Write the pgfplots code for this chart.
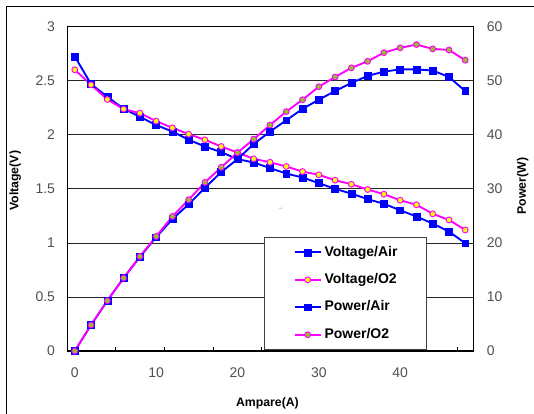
\documentclass[border=0pt]{standalone}
\usepackage{fontspec}
\setmainfont{Liberation Sans}
\usepackage{pgfplots}
\usepackage{pgfplotstable}
\pgfplotsset{compat=1.18}

\definecolor{olivegr}{RGB}{150,190,40}
\definecolor{tickgray}{RGB}{80,80,80}
\definecolor{mag}{RGB}{255,0,255}
\definecolor{blu}{RGB}{0,0,255}
\definecolor{yel}{RGB}{255,255,0}

% current (A), voltage air / O2 (V), power air / O2 (W)
\pgfplotstableread{
x   vair   vo2    pair   po2
0   2.725  2.602  0      0
2   2.469  2.463  4.81   4.80
4   2.352  2.327  9.32   9.30
6   2.241  2.238  13.5   13.5
8   2.167  2.201  17.4   17.5
10  2.090  2.127  21.05  21.2
12  2.031  2.065  24.4   24.9
14  1.954  2.006  27.15  28.0
16  1.892  1.954  30.2   31.2
18  1.840  1.892  33.1   34.0
20  1.775  1.836  35.5   36.7
22  1.744  1.778  38.3   39.2
24  1.692  1.746  40.6   41.8
26  1.642  1.707  42.7   44.3
28  1.605  1.660  44.8   46.5
30  1.553  1.630  46.5   48.9
32  1.500  1.580  48.1   50.7
34  1.456  1.543  49.6   52.4
36  1.405  1.494  50.9   53.6
38  1.362  1.451  51.7   55.2
40  1.302  1.395  52.1   56.1
42  1.244  1.353  52.1   56.7
44  1.179  1.269  51.9   55.9
46  1.105  1.213  50.7   55.7
48  0.997  1.120  48.1   53.8
}\fcdata

\pgfplotsset{
  airline/.style={blu, line width=1.4pt, mark=square*, mark size=2.6pt,
    mark options={solid, fill=blu, draw=blu, line width=0.4pt}},
  o2volt/.style={mag, line width=1.4pt, mark=*, mark size=2.2pt,
    mark options={solid, fill=yel, draw=mag, line width=0.7pt}},
  o2pow/.style={mag, line width=1.4pt, mark=*, mark size=2.2pt,
    mark options={solid, fill=olivegr, draw=mag, line width=0.7pt}},
  common/.style={
    at={(0pt,0pt)}, anchor=south west,
    scale only axis, width=304.5pt, height=243.2pt,
    xmin=-0.92, xmax=48.99, clip=false,
    ticklabel style={font=\fontsize{10.5}{12}\selectfont, text=tickgray},
    /pgf/number format/assume math mode=true,
    axis line style={line width=1.1pt},
    major tick length=0pt,
  },
}

\begin{document}
\begin{tikzpicture}
\begin{scope}[x=0.75pt,y=0.75pt]
  \useasboundingbox (-67.3,-61) rectangle (466.7,351);
  \draw[line width=0.75pt] (-60.3,-70) -- (-60.3,344) -- (480,344);
\end{scope}

\begin{axis}[
  common,
  ymin=0, ymax=3,
  xtick={0,10,20,30,40},
  ytick={0,0.5,1,1.5,2,2.5,3},
  xtick pos=bottom, ytick pos=left,
  extra x ticks={5,11,17,23,29,35,41,47},
  extra x tick labels={},
  extra x tick style={major tick length=3pt, tick align=inside,
    tick style={black, line width=0.6pt}},
  ymajorgrids,
  grid style={black!85, line width=0.6pt},
  yticklabel style={anchor=east, inner sep=0pt, xshift=-9pt},
  xticklabel style={anchor=north, inner sep=0pt, yshift=-12pt},
  xlabel={Ampare(A)},
  xlabel style={at={(rel axis cs:0.493,0)}, anchor=center, yshift=-39.5pt,
    font=\fontsize{9.2}{11}\selectfont\bfseries},
  ylabel={Voltage(V)},
  ylabel style={at={(rel axis cs:0,0.525)}, anchor=center, rotate=0,
    yshift=39pt, font=\fontsize{9.2}{11}\selectfont\bfseries},
]
\addplot[airline] table[x=x, y=vair] {\fcdata};
\addplot[o2volt] table[x=x, y=vo2] {\fcdata};
\node[text=gray, font=\tiny] at (rel axis cs:0.526,0.435) {`{}`};
\end{axis}

\begin{axis}[
  common,
  ymin=0, ymax=60,
  axis x line=none, axis y line*=right,
  ytick={0,10,20,30,40,50,60},
  yticklabel style={anchor=west, inner sep=0pt, xshift=10pt},
  ylabel={Power(W)},
  ylabel style={at={(rel axis cs:1,0.509)}, anchor=center,
    yshift=-37pt, font=\fontsize{9.2}{11}\selectfont\bfseries},
  legend image code/.code={
    \draw[mark repeat=2, mark phase=2, #1]
      plot coordinates {(0pt,0pt) (9.75pt,0pt) (19.5pt,0pt)};},
  legend style={at={(rel axis cs:0.485,0.352)}, anchor=north west,
    draw=black!75, line width=0.75pt, fill=white,
    font=\fontsize{10.5}{12}\selectfont\bfseries,
    inner xsep=21.75pt, inner ysep=6pt, row sep=10.1pt, column sep=2.25pt,
    nodes={inner sep=0pt, text height=8pt, text depth=2.5pt},
    cells={anchor=west}},
]
\addlegendimage{airline}
\addlegendentry{Voltage/Air}
\addlegendimage{o2volt}
\addlegendentry{Voltage/O2}
\addplot[airline] table[x=x, y=pair] {\fcdata};
\addlegendentry{Power/Air}
\addplot[o2pow] table[x=x, y=po2] {\fcdata};
\addlegendentry{Power/O2}
\end{axis}
\end{tikzpicture}
\end{document}
